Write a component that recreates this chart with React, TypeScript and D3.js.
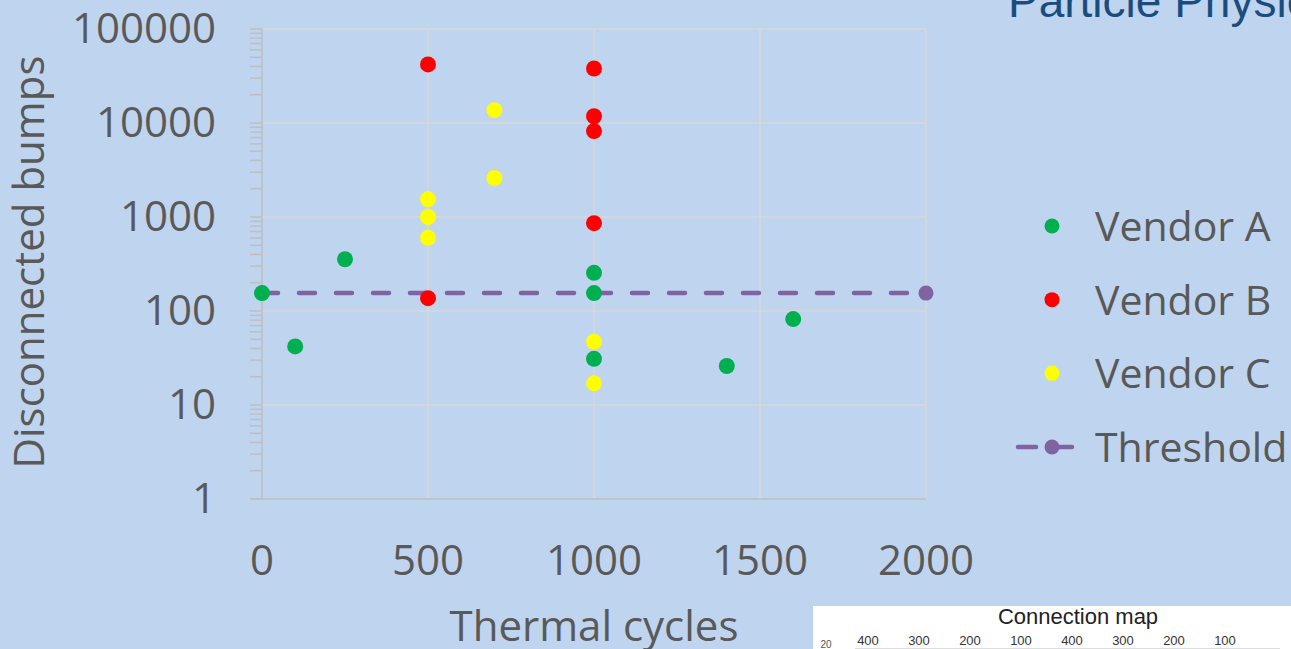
import React from 'react';
import * as d3 from 'd3';

// thermal cycles vs disconnected bumps
const vendorAx = [0, 100, 250, 1000, 1000, 1000, 1400, 1600];
const vendorAy = [155, 42, 355, 255, 155, 31, 26, 82];
const vendorBx = [500, 500, 1000, 1000, 1000, 1000];
const vendorBy = [42000, 137, 38000, 11800, 8200, 860];
const vendorCx = [500, 500, 500, 700, 700, 1000, 1000];
const vendorCy = [1550, 1000, 600, 13700, 2600, 47, 17];
const thresholdX = [0, 2000];
const thresholdY = [155, 155];

const xTicks = [0, 500, 1000, 1500, 2000];
const yTicks = [1, 10, 100, 1000, 10000, 100000];
const legendLabels = ['Vendor A', 'Vendor B', 'Vendor C', 'Threshold'];
const mapTicks = ['400', '300', '200', '100', '400', '300', '200', '100'];

const W = 1291, H = 649;
const font = '"Open Sans", sans-serif';
const arial = '"Liberation Sans", Arial, sans-serif';
const textCol = '#595959';
const gridCol = '#d9d9d9';
const axisCol = '#bfbfbf';

export default function App() {
  const x = d3.scaleLinear().domain([0, 2000]).range([262, 926]);
  const y = d3.scaleLog().domain([1, 100000]).range([499, 29]);

  const minor: number[] = [];
  yTicks.slice(0, -1).forEach(d => {
    for (let k = 2; k <= 9; k++) minor.push(d * k);
  });

  const series = [
    { xs: vendorAx, ys: vendorAy, color: '#00b050' },
    { xs: vendorBx, ys: vendorBy, color: '#ff0000' },
    { xs: vendorCx, ys: vendorCy, color: '#ffff00' },
  ];

  const line = d3.line<number>()
    .x((_, i) => x(thresholdX[i]))
    .y(d => y(d));

  const legendY = d3.scaleLinear().domain([0, 3]).range([226, 447]);

  return (
    <svg width={W} height={H} style={{ position: 'absolute', left: 0, top: 0, display: 'block' }}>
      <rect width={W} height={H} fill="#bfd4ee" />

      {/* grid */}
      {yTicks.slice(1).map(t => (
        <line key={'gy' + t} x1={x(0)} x2={x(2000)} y1={y(t)} y2={y(t)} stroke={gridCol} strokeWidth={1.5} />
      ))}
      {xTicks.slice(1).map(t => (
        <line key={'gx' + t} x1={x(t)} x2={x(t)} y1={y(1)} y2={y(100000)} stroke={gridCol} strokeWidth={1.5} />
      ))}

      {/* axes */}
      <line x1={x(0)} x2={x(0)} y1={y(1)} y2={y(100000)} stroke={axisCol} strokeWidth={1.5} />
      <line x1={250} x2={x(2000)} y1={y(1)} y2={y(1)} stroke={axisCol} strokeWidth={1.5} />
      {yTicks.concat(minor).map(t => (
        <line key={'tk' + t} x1={250} x2={x(0)} y1={y(t)} y2={y(t)} stroke={axisCol} strokeWidth={1.5} />
      ))}

      {yTicks.map(t => (
        <text key={'yl' + t} x={216} y={y(t) + 14} textAnchor="end" fontFamily={font} fontSize={42} fill={textCol}>{t}</text>
      ))}
      {xTicks.map(t => (
        <text key={'xl' + t} x={x(t)} y={575} textAnchor="middle" fontFamily={font} fontSize={42} fill={textCol}>{t}</text>
      ))}
      <text x={594} y={641} textAnchor="middle" fontFamily={font} fontSize={42} fill={textCol}>Thermal cycles</text>
      <text transform="translate(44,262) rotate(-90)" textAnchor="middle" fontFamily={font} fontSize={42} fill={textCol}>Disconnected bumps</text>

      {/* threshold */}
      <path d={line(thresholdY) || ''} fill="none" stroke="#8064a2" strokeWidth={4.5} strokeDasharray="16 21" strokeLinecap="round" />
      {thresholdX.map((v, i) => (
        <circle key={'th' + i} cx={x(v)} cy={y(thresholdY[i])} r={7.5} fill="#8064a2" />
      ))}

      {series.map((s, si) => s.xs.map((v, i) => (
        <circle key={si + '-' + i} cx={x(v)} cy={y(s.ys[i])} r={8} fill={s.color} />
      )))}

      {/* legend */}
      {legendLabels.map((l, i) => (
        <g key={l}>
          {i < 3 ? (
            <circle cx={1052} cy={legendY(i)} r={7.5} fill={series[i].color} />
          ) : (
            <g>
              <line x1={1018} x2={1036} y1={legendY(i)} y2={legendY(i)} stroke="#8064a2" strokeWidth={4.5} strokeLinecap="round" />
              <line x1={1052} x2={1072} y1={legendY(i)} y2={legendY(i)} stroke="#8064a2" strokeWidth={4.5} strokeLinecap="round" />
              <circle cx={1052} cy={legendY(i)} r={7.5} fill="#8064a2" />
            </g>
          )}
          <text x={1095} y={legendY(i) + 15} fontFamily={font} fontSize={41} fill={textCol}>{l}</text>
        </g>
      ))}

      {/* slide title, cut off at the edge */}
      <text x={1008} y={17} fontFamily={arial} fontSize={46} fill="#1a4d7e">Particle Physics</text>

      {/* connection map inset */}
      <rect x={813} y={606} width={W - 813} height={H - 606} fill="#ffffff" />
      <text x={1078} y={624} textAnchor="middle" fontFamily={arial} fontSize={22} fill="#222">Connection map</text>
      {mapTicks.map((t, i) => (
        <text key={'m' + i} x={868 + i * 51} y={645} textAnchor="middle" fontFamily={arial} fontSize={13} fill="#333">{t}</text>
      ))}
      <text x={826} y={648} textAnchor="middle" fontFamily={arial} fontSize={10} fill="#555">20</text>
      <line x1={855} x2={1280} y1={648.5} y2={648.5} stroke="#ddd" strokeWidth={1} />
    </svg>
  );
}
